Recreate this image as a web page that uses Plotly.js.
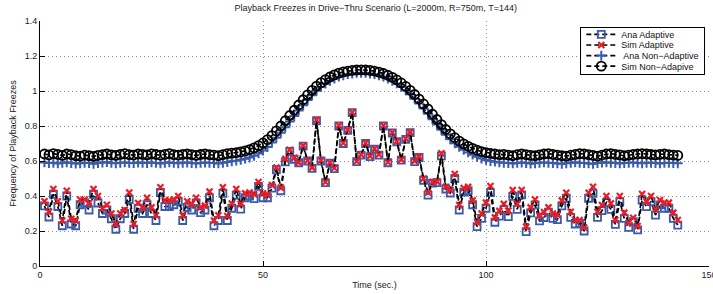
<!DOCTYPE html>
<html>
<head>
<meta charset="utf-8">
<script src="https://cdn.plot.ly/plotly-3.0.1.min.js"></script>
<style>html,body{margin:0;padding:0;background:#fff;overflow:hidden;}#chart{width:713px;height:294px;}</style>
</head>
<body>
<div id="chart"></div>
<script>
const time = [1,2,3,4,5,6,7,8,9,10,11,12,13,14,15,16,17,18,19,20,21,22,23,24,25,26,27,28,29,30,31,32,33,34,35,36,37,38,39,40,41,42,43,44,45,46,47,48,49,50,51,52,53,54,55,56,57,58,59,60,61,62,63,64,65,66,67,68,69,70,71,72,73,74,75,76,77,78,79,80,81,82,83,84,85,86,87,88,89,90,91,92,93,94,95,96,97,98,99,100,101,102,103,104,105,106,107,108,109,110,111,112,113,114,115,116,117,118,119,120,121,122,123,124,125,126,127,128,129,130,131,132,133,134,135,136,137,138,139,140,141,142,143];

const anaAdaptive = [0.343,0.28,0.41,0.34,0.23,0.40,0.24,0.23,0.35,0.36,0.32,0.41,0.36,0.30,0.32,0.27,0.21,0.27,0.30,0.38,
0.21,0.33,0.30,0.35,0.30,0.26,0.42,0.34,0.34,0.35,0.37,0.26,0.335,0.32,0.36,0.305,0.32,0.39,0.23,0.26,
0.415,0.26,0.33,0.405,0.325,0.39,0.40,0.385,0.455,0.39,0.39,0.445,0.55,0.43,0.595,0.655,0.61,0.59,0.685,0.60,
0.558,0.83,0.60,0.476,0.587,0.556,0.80,0.70,0.775,0.876,0.596,0.633,0.70,0.625,0.667,0.634,0.80,0.59,0.76,0.71,
0.605,0.724,0.762,0.596,0.62,0.49,0.405,0.474,0.476,0.629,0.44,0.417,0.50,0.32,0.422,0.43,0.35,0.225,0.272,0.33,
0.419,0.25,0.285,0.322,0.282,0.398,0.324,0.406,0.196,0.303,0.349,0.258,0.277,0.308,0.272,0.265,0.343,0.387,0.278,0.24,
0.244,0.20,0.387,0.415,0.278,0.316,0.362,0.324,0.238,0.368,0.272,0.221,0.253,0.206,0.377,0.339,0.368,0.291,0.349,0.33,
0.33,0.272,0.234];

const simAdaptive = [0.37,0.31,0.44,0.37,0.26,0.43,0.27,0.26,0.38,0.38,0.36,0.44,0.40,0.33,0.35,0.30,0.24,0.30,0.32,0.42,
0.24,0.36,0.335,0.39,0.335,0.29,0.45,0.377,0.375,0.38,0.40,0.29,0.37,0.355,0.39,0.335,0.345,0.425,0.26,0.29,
0.45,0.286,0.357,0.44,0.355,0.415,0.42,0.41,0.48,0.415,0.408,0.462,0.562,0.448,0.612,0.664,0.618,0.592,0.688,0.603,
0.562,0.834,0.604,0.48,0.59,0.56,0.803,0.703,0.778,0.879,0.599,0.636,0.703,0.628,0.67,0.637,0.803,0.593,0.763,0.713,
0.608,0.727,0.765,0.60,0.625,0.50,0.42,0.48,0.482,0.644,0.453,0.434,0.526,0.349,0.446,0.452,0.375,0.25,0.30,0.362,
0.457,0.278,0.315,0.355,0.316,0.434,0.356,0.434,0.225,0.335,0.38,0.288,0.308,0.335,0.30,0.293,0.375,0.419,0.31,0.263,
0.263,0.22,0.419,0.453,0.31,0.349,0.40,0.358,0.263,0.40,0.305,0.248,0.276,0.229,0.411,0.368,0.40,0.324,0.377,0.362,
0.362,0.305,0.263];

const anaNonAdaptive = [0.592,0.588,0.590,0.586,0.590,0.592,0.588,0.585,0.587,0.590,0.588,0.584,0.588,0.591,0.593,0.589,0.587,0.590,0.592,0.589,
0.588,0.591,0.590,0.588,0.592,0.589,0.586,0.590,0.592,0.589,0.587,0.590,0.591,0.588,0.586,0.589,0.591,0.589,0.588,0.586,
0.590,0.594,0.598,0.602,0.607,
0.613,0.620,0.630,0.643,0.660,0.680,0.705,0.733,0.762,0.793,0.825,0.857,0.888,0.919,0.948,0.976,1.001,1.023,1.042,1.058,
1.071,1.082,1.090,1.096,1.100,1.103,1.104,1.103,1.100,1.096,1.090,1.082,1.071,1.058,1.043,1.025,1.004,0.981,0.956,0.929,
0.900,0.870,0.839,0.808,0.778,0.750,0.724,0.701,0.681,0.664,0.649,0.636,0.624,0.614,0.606,0.600,
0.596,0.592,0.590,0.588,0.586,0.589,0.591,0.588,0.585,0.587,0.590,0.592,0.590,0.588,0.586,0.584,0.587,0.590,0.592,0.590,
0.588,0.586,0.584,0.588,0.591,0.592,0.590,0.588,0.586,0.588,0.590,0.591,0.589,0.587,0.589,0.590,0.588,0.586,0.589,0.590,
0.588,0.587];

const simNonAdaptive = [0.640,0.635,0.642,0.638,0.632,0.640,0.636,0.630,0.628,0.634,0.630,0.626,0.632,0.636,0.640,0.635,0.632,0.638,0.642,0.636,
0.634,0.640,0.638,0.635,0.641,0.637,0.633,0.638,0.642,0.636,0.634,0.638,0.640,0.636,0.632,0.637,0.640,0.636,0.634,0.630,
0.636,0.642,0.645,0.648,0.652,
0.658,0.665,0.675,0.688,0.703,0.722,0.745,0.772,0.800,0.830,0.860,0.890,0.920,0.950,0.978,1.004,1.028,1.048,1.065,1.080,
1.092,1.102,1.109,1.114,1.118,1.120,1.121,1.120,1.118,1.114,1.108,1.100,1.090,1.078,1.063,1.046,1.026,1.004,0.980,0.954,
0.926,0.897,0.867,0.837,0.808,0.780,0.755,0.733,0.714,0.698,0.684,0.672,0.662,0.654,0.648,0.643,
0.640,0.636,0.638,0.634,0.630,0.636,0.640,0.636,0.632,0.630,0.635,0.640,0.642,0.638,0.634,0.630,0.628,0.633,0.638,0.642,
0.640,0.636,0.632,0.628,0.634,0.640,0.642,0.638,0.635,0.630,0.633,0.638,0.640,0.642,0.640,0.637,0.635,0.638,0.640,0.636,
0.634,0.632];

const seriesNames = ['Ana Adaptive', 'Sim Adaptive', ' Ana Non\u2212Adaptive', 'Sim Non\u2212Adapive'];
const xTicks = [0, 50, 100, 150];
const yTicks = [0, 0.2, 0.4, 0.6, 0.8, 1, 1.2, 1.4];
const yTickText = ['0', '0.2', '0.4', '0.6', '0.8', '1', '1.2', '1.4'];

[anaAdaptive, simAdaptive, anaNonAdaptive, simNonAdaptive].forEach((a, i) => {
  if (a.length !== time.length) throw new Error('length mismatch series ' + i + ': ' + a.length + ' vs ' + time.length);
});

const BLUE = '#3a5bab';
const RED = '#ec1c24';
const dashLine = {color: '#000', width: 1.7, dash: '5px,3px'};

const traces = [
  {x: time, y: anaAdaptive, name: seriesNames[0], mode: 'lines+markers', line: dashLine,
   marker: {symbol: 'square-open', size: 7, color: BLUE, line: {width: 1.8, color: BLUE}}},
  {x: time, y: simAdaptive, name: seriesNames[1], mode: 'lines+markers', line: dashLine,
   marker: {symbol: 'x-thin-open', size: 6, color: RED, line: {width: 2.2, color: RED}}},
  {x: time, y: anaNonAdaptive, name: seriesNames[2], mode: 'lines+markers', line: dashLine,
   marker: {symbol: 'cross-thin-open', size: 7, color: BLUE, line: {width: 2, color: BLUE}}},
  {x: time, y: simNonAdaptive, name: seriesNames[3], mode: 'lines+markers', line: dashLine,
   marker: {symbol: 'circle-open', size: 9, color: '#000', line: {width: 1.8, color: '#000'}}}
];

const font = {family: 'Liberation Sans, Arial, sans-serif', size: 9, color: '#222'};
const gridStyle = {showgrid: true, gridcolor: '#8c8c8c', griddash: '1px,3px', gridwidth: 1};

const layout = {
  width: 713, height: 294,
  margin: {l: 40, r: 4, t: 21, b: 28},
  paper_bgcolor: '#fff', plot_bgcolor: '#fff',
  font: font,
  showlegend: true,
  title: {text: 'Playback Freezes in Drive\u2212Thru Scenario (L=2000m, R=750m, T=144)',
          font: {family: font.family, size: 9, color: '#222'}, x: 0.527, xanchor: 'center', y: 0.975, yanchor: 'middle'},
  xaxis: Object.assign({
    range: [0, 150], tickvals: xTicks, ticktext: xTicks.map(String),
    showline: true, linecolor: '#000', linewidth: 1, mirror: false,
    ticks: 'inside', ticklen: 5, tickcolor: '#000', zeroline: false,
    tickfont: font, ticklabeloverflow: 'allow',
    title: {text: 'Time (sec.)', font: font, standoff: 2}
  }, gridStyle),
  yaxis: Object.assign({
    range: [0, 1.4], tickvals: yTicks, ticktext: yTickText,
    showline: true, linecolor: '#000', linewidth: 1, mirror: false,
    ticks: 'inside', ticklen: 5, tickcolor: '#000', zeroline: false,
    tickfont: font,
    title: {text: 'Frequency of Playback Freezes', font: font, standoff: 6}
  }, gridStyle),
  legend: {
    x: 0.994, y: 0.976, xanchor: 'right', yanchor: 'top',
    bgcolor: '#fff', bordercolor: '#000', borderwidth: 1.3,
    font: {family: font.family, size: 9, color: '#111'},
    tracegroupgap: 0, itemwidth: 30
  }
};

Plotly.newPlot('chart', traces, layout, {displayModeBar: false, staticPlot: true}).then(gd => {
  // compact legend rows to match the tight MATLAB-style legend
  const leg = gd.querySelector('.legend');
  if (!leg) return;
  const items = leg.querySelectorAll('.traces');
  const rowH = 10.6, y0 = 7.5;
  items.forEach((g, i) => {
    const tr = g.getAttribute('transform') || '';
    const m = tr.match(/translate\(\s*([-\d.]+)[ ,]+([-\d.]+)\s*\)/);
    const x = m ? m[1] : 1;
    g.setAttribute('transform', 'translate(' + x + ',' + (y0 + i * rowH) + ')');
  });
  const bg = leg.querySelector('rect.bg');
  if (bg) bg.setAttribute('height', y0 + (items.length - 1) * rowH + 7.5);
});
</script>
</body>
</html>
